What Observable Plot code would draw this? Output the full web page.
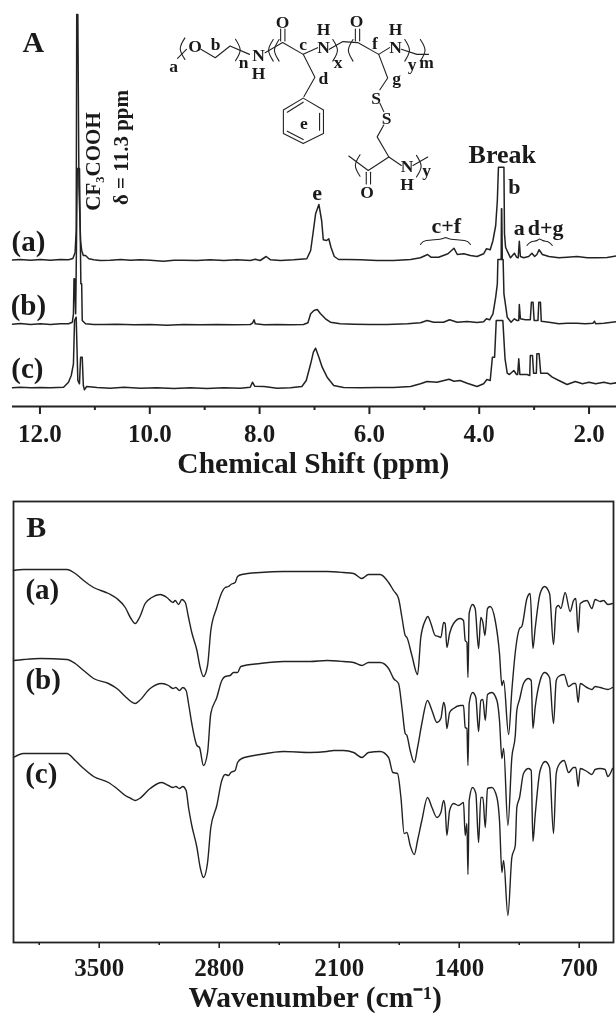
<!DOCTYPE html>
<html><head><meta charset="utf-8">
<script src="https://cdn.jsdelivr.net/npm/d3@7"></script>
<script src="https://cdn.jsdelivr.net/npm/@observablehq/plot@0.6"></script>
<style>html,body{margin:0;padding:0;background:#fff}svg{display:block}</style>
</head><body>
<script>
// NMR spectra: [chemical shift ppm, stacked intensity]
const nmrA=[[12.5,146.5],[12.36,147],[12.17,146.3],[11.99,147],[11.81,146.3],[11.63,147],[11.48,146.7],[11.40,148],[11.36,154],[11.34,176],[11.33,392],[11.31,392],[11.29,219],[11.26,166],[11.24,156],[11.21,151],[11.17,151],[11.11,147.7],[11.02,146.7],[10.9,146],[10.72,146.3],[10.53,147],[10.35,146.3],[10.17,146.7],[9.99,146.3],[9.75,145.3],[9.56,146.3],[9.38,146.3],[9.14,146],[8.9,146.7],[8.65,146],[8.41,146.7],[8.17,146],[8.08,147.3],[7.99,146],[7.88,150],[7.80,146.7],[7.62,146],[7.38,146.7],[7.14,147.7],[7.07,156],[7.02,176],[6.98,192.7],[6.92,202],[6.87,186],[6.84,166.7],[6.78,166],[6.74,167.7],[6.70,159.3],[6.64,150],[6.56,147],[6.41,147],[6.16,146.7],[5.86,146],[5.56,146],[5.25,147],[5.07,148.7],[4.94,152],[4.88,149.3],[4.74,149.3],[4.57,152.7],[4.54,154.3],[4.46,158.3],[4.40,152],[4.28,152.7],[4.16,151],[4.04,150],[3.92,152.7],[3.87,157.7],[3.80,156.7],[3.75,166],[3.70,181],[3.67,206],[3.65,239.3],[3.55,239.3],[3.54,172.7],[3.52,159.3],[3.48,154.3],[3.43,148.7],[3.36,153.3],[3.32,149.3],[3.29,148.7],[3.27,165.3],[3.25,150],[3.19,148.7],[3.10,150],[3.04,153.3],[2.99,150],[2.95,152],[2.91,156.7],[2.85,152],[2.73,150],[2.55,148.7],[2.40,149.3],[2.22,150],[2.03,148.7],[1.85,148.7],[1.67,149],[1.5,150.7]];
const nmrB=[[12.5,82.3],[12.36,83],[12.17,82],[11.99,82.7],[11.81,82],[11.63,82.7],[11.48,82.7],[11.41,84.3],[11.39,92.7],[11.38,127.7],[11.37,127.7],[11.35,92.7],[11.34,136],[11.32,238],[11.28,238],[11.26,146],[11.255,122.7],[11.24,122.7],[11.23,86],[11.17,82.7],[11.02,82],[10.84,82],[10.6,82.3],[10.29,81.7],[9.99,82],[9.69,81.3],[9.38,82],[9.08,81.7],[8.77,82],[8.47,81.7],[8.17,82],[8.13,83.3],[8.10,86.7],[8.08,82.7],[7.92,81.7],[7.68,82],[7.44,81.7],[7.2,82],[7.12,83.7],[7.07,92.7],[7.01,96],[6.95,97],[6.89,92.7],[6.80,87.7],[6.71,84.3],[6.53,82.7],[6.28,82.3],[5.98,82],[5.68,82],[5.31,82.7],[5.07,83.7],[4.95,86],[4.83,84.3],[4.65,84.3],[4.54,86.7],[4.40,84.3],[4.22,85],[4.04,84],[3.92,84.7],[3.87,87.7],[3.81,86.7],[3.75,92.7],[3.70,109.3],[3.67,122.7],[3.66,147],[3.60,147],[3.595,197.7],[3.59,197.7],[3.58,147],[3.565,147],[3.55,112.7],[3.49,89.3],[3.42,84.3],[3.36,87.7],[3.31,86],[3.28,86],[3.27,102],[3.25,87.7],[3.16,86.7],[3.07,86.7],[3.05,104.3],[3.02,104.3],[3.0,86],[2.93,86],[2.915,104.3],[2.885,104.3],[2.87,85.3],[2.73,84.3],[2.55,82.7],[2.40,83.3],[2.22,83.3],[2.07,82.7],[1.93,83.3],[1.90,85.3],[1.88,82.7],[1.73,83.3],[1.5,84.7]];
const nmrC=[[12.5,18.7],[12.36,19.3],[12.17,18.7],[11.99,19],[11.81,18.7],[11.57,19.3],[11.48,24.3],[11.43,31],[11.39,42.7],[11.37,86],[11.34,89.3],[11.31,26],[11.28,22.7],[11.26,49.3],[11.23,49.3],[11.21,21],[11.19,16.7],[11.15,20],[10.96,19],[10.72,18.3],[10.47,19.3],[10.17,18.3],[9.87,18.7],[9.56,18],[9.26,18.7],[8.96,18],[8.65,18.7],[8.35,18.3],[8.17,19.3],[8.13,24.3],[8.09,20.3],[7.92,20],[7.68,18.3],[7.44,18.7],[7.23,20],[7.15,26],[7.07,42.7],[7.02,54.3],[6.98,58.3],[6.92,49.3],[6.86,39.3],[6.77,29.3],[6.65,21],[6.47,19],[6.16,18.7],[5.86,19],[5.56,19],[5.25,20],[5.07,22.7],[4.95,25],[4.77,24.3],[4.55,27.3],[4.46,25.3],[4.35,26],[4.22,23.3],[4.04,20],[3.92,22.7],[3.86,27],[3.80,26],[3.76,49.3],[3.72,49.3],[3.69,86],[3.57,86],[3.53,47.7],[3.49,33.3],[3.45,32],[3.37,36],[3.32,32],[3.30,32],[3.28,47.7],[3.26,32],[3.13,32],[3.08,31],[3.07,51],[3.03,51],[3.01,33.3],[2.96,33.3],[2.95,52.7],[2.91,52.7],[2.88,33.3],[2.76,33.3],[2.67,29.3],[2.55,26],[2.40,22],[2.25,25],[2.12,22.7],[2.00,24.3],[1.88,22.7],[1.73,24.3],[1.61,22.7],[1.5,23.7]];
// brackets over multiplets
const bracketCF=[[5.07,162],[5.01,166.7],[4.67,166.7],[4.61,170],[4.56,166.7],[4.22,166.7],[4.16,162]];
const bracketDG=[[3.13,161],[3.07,165.3],[2.94,165.3],[2.90,168.7],[2.85,165.3],[2.73,165.3],[2.67,161]];
// IR spectra: [wavenumber, stacked transmittance]
const irA=[[4000,372],[3941,373],[3844,373],[3689,373],[3640,369],[3591,362],[3533,355],[3446,349],[3397,344],[3348,335],[3315,324],[3290,319],[3265,325],[3232,339],[3193,345],[3144,348],[3105,345],[3070,340],[3057,342],[3037,338],[3018,343],[2998,340],[2979,325],[2960,310],[2930,292],[2911,275],[2892,266],[2868,277],[2849,312],[2814,335],[2785,350],[2765,355],[2746,356],[2732,358],[2707,360],[2693,366],[2668,368],[2561,370],[2425,371],[2269,371],[2172,371],[2075,370],[2016,369],[1968,364],[1929,368],[1861,368],[1812,360],[1783,352],[1754,344],[1734,325],[1715,307],[1705,305],[1676,287],[1643,268],[1624,305],[1598,322],[1583,326],[1565,319],[1540,307],[1521,306],[1507,305],[1491,320],[1482,319],[1472,295],[1456,309],[1433,319],[1394,324],[1375,322],[1365,302],[1355,300],[1349,265],[1342,329],[1322,338],[1307,334],[1287,294],[1274,325],[1262,320],[1250,307],[1235,334],[1219,336],[1190,322],[1165,289],[1151,257],[1141,262],[1112,208],[1093,252],[1073,290],[1064,302],[1048,314],[1035,316],[1005,344],[986,349],[970,294],[957,314],[928,349],[902,356],[873,349],[850,298],[834,335],[821,337],[807,334],[782,350],[753,331],[733,342],[720,344],[706,310],[694,339],[655,342],[626,334],[607,343],[578,341],[558,342],[533,338],[506,339]];
const irB=[[4000,282],[3941,283],[3844,284],[3689,283],[3640,279],[3591,272],[3533,264],[3446,259],[3397,254],[3348,246],[3315,241],[3290,239],[3265,242],[3203,254],[3135,259],[3096,257],[3070,254],[3053,255],[3032,252],[3012,255],[2993,252],[2979,239],[2960,219],[2930,197],[2915,195],[2892,177],[2868,190],[2849,229],[2814,245],[2785,262],[2765,266],[2736,267],[2717,270],[2693,270],[2674,276],[2561,279],[2425,281],[2269,281],[2172,282],[2075,281],[2016,280],[1968,277],[1929,280],[1861,280],[1812,274],[1783,264],[1754,259],[1734,235],[1715,209],[1705,207],[1686,192],[1662,180],[1643,195],[1618,219],[1585,242],[1559,232],[1530,220],[1507,224],[1491,240],[1482,235],[1472,214],[1456,230],[1433,234],[1394,237],[1375,237],[1365,215],[1355,214],[1349,177],[1342,239],[1322,250],[1303,245],[1287,211],[1274,242],[1262,243],[1248,222],[1235,248],[1210,250],[1180,242],[1165,222],[1151,184],[1141,194],[1116,117],[1093,185],[1073,207],[1064,232],[1048,243],[1025,259],[996,264],[980,262],[970,214],[957,235],[928,262],[902,270],[873,265],[850,219],[834,262],[821,266],[788,268],[762,256],[733,259],[720,259],[706,240],[694,259],[655,255],[626,253],[607,256],[578,255],[533,253],[506,255]];
const irC=[[4000,185],[3941,189],[3844,189],[3689,189],[3640,182],[3591,174],[3533,166],[3446,160],[3397,154],[3348,147],[3315,144],[3290,142],[3265,144],[3203,154],[3135,160],[3096,157],[3070,155],[3053,156],[3032,154],[3012,156],[2993,152],[2979,135],[2960,117],[2930,95],[2911,75],[2892,65],[2868,80],[2849,115],[2814,137],[2785,162],[2765,168],[2746,167],[2732,170],[2707,172],[2693,180],[2668,184],[2561,188],[2425,191],[2269,190],[2172,191],[2133,192],[2075,192],[2016,190],[1968,185],[1929,190],[1861,191],[1812,185],[1787,170],[1760,169],[1740,145],[1721,109],[1705,110],[1686,97],[1662,88],[1643,102],[1618,122],[1585,145],[1559,135],[1530,125],[1507,130],[1491,142],[1482,135],[1472,107],[1456,132],[1433,139],[1404,137],[1375,140],[1365,107],[1355,119],[1349,68],[1342,142],[1322,155],[1303,149],[1287,100],[1274,145],[1262,145],[1248,115],[1235,154],[1210,155],[1180,145],[1165,122],[1151,70],[1141,82],[1116,27],[1093,85],[1073,97],[1064,135],[1048,145],[1025,169],[996,174],[980,172],[970,101],[957,127],[928,172],[898,181],[873,175],[850,109],[834,169],[821,177],[788,182],[762,170],[733,175],[720,175],[706,156],[694,174],[655,171],[626,168],[607,173],[578,174],[549,173],[533,166],[506,174]];
// axis ticks
const ppmMajor=[12,10,8,6,4,2], ppmMinor=[11,9,7,5,3];
const irMajor=[3500,2800,2100,1400,700], irMinor=[3850,3150,2450,1750,1050];
// labels: text, x, y, size
const labelsA=[["A",12.12,364,30],["(a)",12.21,165,29],["(b)",12.21,101,29],["(c)",12.23,38,29],["e",6.95,214,22],["b",3.36,220,22],["c+f",4.60,181,22],["a",3.27,179,22],["d+g",2.79,179,22]];
const labelsB=[["B",3867,415,30],["(a)",3832,353,29],["(b)",3827,263,29],["(c)",3838,169,29]];
// structure sketch, in drawing units
const bonds=[[[455,172],[478,145]],[[515,145],[552,170],[590,135],[640,160]],[[680,155],[725,125],[778,160],[815,140]],[[720,85],[720,120]],[[731,85],[731,120]],[[845,145],[880,122],[918,125],[972,160],[1000,140]],[[912,85],[912,120]],[[923,85],[923,120]],[[1030,145],[1070,160],[1100,160]],[[778,160],[808,228],[780,285]],[[778,290],[830,325],[830,395],[778,425],[727,395],[727,325],[778,290]],[[820,335],[820,385]],[[778,413],[737,388]],[[737,332],[778,302]],[[972,160],[995,230],[975,265]],[[975,305],[985,330]],[[985,370],[968,405],[998,465],[945,505],[895,462]],[[998,465],[1030,490]],[[1060,490],[1098,465]],[[940,510],[940,545]],[[951,510],[951,545]]];
const atoms=[["a",445,195],["O",500,135],["b",553,130],["n",625,185],["N",663,163],["H",663,216],["O",725,65],["c",778,130],["N",830,138],["H",830,85],["x",868,185],["O",915,62],["f",962,128],["N",1015,138],["H",1015,85],["y",1058,190],["m",1095,185],["d",830,230],["g",1018,232],["e",780,365],["S",965,290],["S",992,350],["N",1045,493],["H",1045,546],["y",1095,505],["O",942,570]];
// bracket arcs: centre x, centre y, bulge direction
const parens=[[468,143,-1],[610,147,1],[695,148,-1],[710,148,-1],[860,148,1],[900,148,-1],[1045,148,1],[1085,148,1],[918,490,-1],[1075,492,1]];
const skX=s=>12-(s/2.57-39.5)/54.9, skY=s=>406-s/2.97;

const serif="'Liberation Serif','Times New Roman',serif", ink="#1a1a1a", trace="#222";
const rootStyle={background:"#fff",color:ink,fontFamily:serif,filter:"blur(0.3px)"};
const traceOpts={x:"0",y:"1",stroke:trace};
const lab=(rows,o={})=>Plot.text(rows,{x:d=>d[1],y:d=>d[2],text:d=>d[0],fontSize:d=>d[3],fontWeight:"bold",fill:ink,...o});

const bondRows=bonds.flatMap((b,i)=>b.map(p=>({x:skX(p[0]),y:skY(p[1]),i})));
const parenRows=parens.flatMap(([cx,cy,dir],i)=>[[6,-32],[-6,0],[6,32]].map(([dx,dy])=>({x:skX(cx-dir*dx),y:skY(cy+dy),i})));

const plotA=Plot.plot({
  width:616,height:484,marginLeft:12,marginRight:0,marginTop:0,marginBottom:78,
  style:rootStyle,
  x:{domain:[12.5,1.5]},y:{domain:[0,406],axis:null},
  marks:[
    Plot.line(nmrC,{...traceOpts,strokeWidth:1.5,curve:"linear"}),
    Plot.line(nmrB,{...traceOpts,strokeWidth:1.5,curve:"linear"}),
    Plot.line(nmrA,{...traceOpts,strokeWidth:1.5,curve:"linear"}),
    Plot.line(bracketCF,{x:"0",y:"1",stroke:trace,strokeWidth:1.1,curve:"basis"}),
    Plot.line(bracketDG,{x:"0",y:"1",stroke:trace,strokeWidth:1.1,curve:"basis"}),
    Plot.ruleY([0],{stroke:trace,strokeWidth:2}),
    Plot.axisX(ppmMajor,{tickSize:8,strokeWidth:2,tickPadding:10,fontSize:25,fontWeight:"bold",tickFormat:d=>d.toFixed(1),label:null,stroke:trace,fill:ink}),
    Plot.axisX(ppmMinor,{tickSize:4,strokeWidth:2,tickFormat:()=>"",label:null,stroke:trace}),
    lab(labelsA),
    Plot.text(["Break"],{x:()=>3.58,y:()=>252,fontSize:26,fontWeight:"bold",fill:ink}),
    Plot.text(["CF₃COOH"],{x:()=>11.03,y:()=>245,rotate:-90,fontSize:21,fontWeight:"bold",fill:ink}),
    Plot.text(["δ = 11.3 ppm"],{x:()=>10.52,y:()=>259,rotate:-90,fontSize:21,fontWeight:"bold",fill:ink}),
    Plot.text(["Chemical Shift (ppm)"],{x:()=>7.02,y:()=>-57,fontSize:29.5,fontWeight:"bold",fill:ink}),
    Plot.line(bondRows,{x:"x",y:"y",z:"i",stroke:trace,strokeWidth:1.1,curve:"linear"}),
    Plot.line(parenRows,{x:"x",y:"y",z:"i",stroke:trace,strokeWidth:1.1,curve:"natural"}),
    Plot.text(atoms,{x:d=>skX(d[1]),y:d=>skY(d[2]),text:d=>d[0],fontSize:17.5,fontWeight:"bold",fill:ink})
  ]
});
const plotB=Plot.plot({
  width:616,height:534,marginLeft:13,marginRight:3,marginTop:17,marginBottom:76,
  style:rootStyle,
  x:{domain:[4000,500]},y:{domain:[0,441],axis:null},
  marks:[
    Plot.line(irC,{...traceOpts,strokeWidth:1.4,curve:"monotone-x"}),
    Plot.line(irB,{...traceOpts,strokeWidth:1.4,curve:"monotone-x"}),
    Plot.line(irA,{...traceOpts,strokeWidth:1.4,curve:"monotone-x"}),
    Plot.frame({stroke:trace,strokeWidth:1.8}),
    Plot.axisX(irMajor,{tickSize:6,strokeWidth:1.6,tickPadding:10,fontSize:25,fontWeight:"bold",tickFormat:d=>String(d),label:null,stroke:trace,fill:ink}),
    Plot.axisX(irMinor,{tickSize:3,strokeWidth:1.6,tickFormat:()=>"",label:null,stroke:trace}),
    lab(labelsB),
    Plot.text(["Wavenumber (cm⁻¹)"],{x:()=>2240,y:()=>-55,fontSize:29.5,fontWeight:"bold",fill:ink})
  ]
});
document.body.append(plotA,plotB);
</script>
</body></html>
